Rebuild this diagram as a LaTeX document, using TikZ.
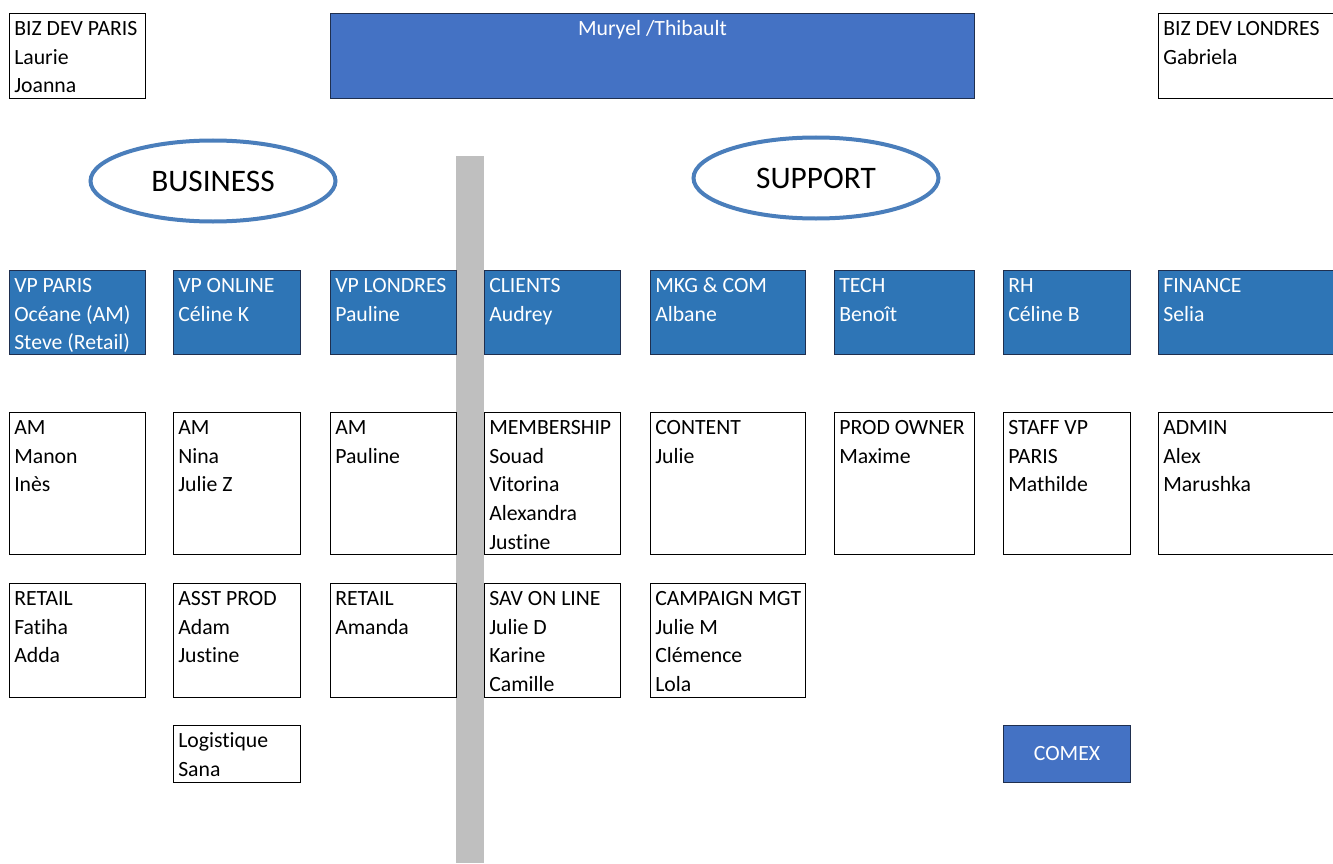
\documentclass[tikz,border=0pt]{standalone}
\usepackage{fontspec}
\setmainfont{Carlito}[Ligatures={NoCommon}]
\usetikzlibrary{shapes.geometric}
\definecolor{deptblue}{HTML}{2E75B6}
\definecolor{headblue}{HTML}{4472C4}
\definecolor{ringblue}{HTML}{4A7EBB}
\definecolor{navyline}{HTML}{1F2F4F}
\definecolor{bargray}{HTML}{BFBFBF}
\newcommand\bodyfont{\fontsize{16.3}{21.4}\selectfont}
\newcommand\bigfont{\fontsize{23.5}{28}\selectfont}
% one framed cell: name, left, top, width, height, style, lines
\newcommand\orgbox[7]{%
  \node[#6, anchor=north west, minimum width=#4*0.75pt, minimum height=#5*0.75pt] (#1) at (#2,#3) {};
  \node[#6text, anchor=north west, xshift=3.75pt, yshift=-2pt] (#1-t) at (#1.north west) {\strut #7};
}
\tikzset{
  wbox/.style={draw=black, line width=0.75pt, fill=white, inner sep=0pt},
  wboxtext/.style={align=left, inner sep=0pt, font=\bodyfont, text=black},
  bbox/.style={draw=navyline, line width=0.75pt, fill=deptblue, inner sep=0pt},
  bboxtext/.style={align=left, inner sep=0pt, font=\bodyfont, text=white},
  hbox/.style={draw=navyline, line width=0.75pt, fill=headblue, inner sep=0pt},
  htext/.style={inner sep=0pt, font=\bodyfont, text=white},
  pole/.style={ellipse, draw=ringblue, line width=3pt, fill=white, font=\bigfont, text=black,
    minimum width=245*0.75pt, minimum height=81*0.75pt, inner sep=0pt},
}
\begin{document}
\begin{tikzpicture}[x=0.75pt,y=-0.75pt]
\useasboundingbox (0,0) rectangle (1333,863);
\clip (0,0) rectangle (1333,863);

% separator between business and support
\fill[bargray] (456,156) rectangle (484,863);

% top row
\orgbox{bdp}{9}{13}{136}{85}{wbox}{BIZ DEV PARIS\\Laurie\\Joanna}
\node[hbox, anchor=north west, minimum width=644*0.75pt, minimum height=85*0.75pt] (head) at (330,13) {};
\node[htext, anchor=north, yshift=-2pt] (head-t) at (head.north) {\strut Muryel /Thibault};
\orgbox{bdl}{1158}{13}{200}{85}{wbox}{BIZ DEV LONDRES\\Gabriela}

% the two poles
\node[pole] (business) at (213,181) {BUSINESS};
\node[pole] (support) at (816,178) {SUPPORT};

% departments
\orgbox{vpp}{9}{270}{136}{84}{bbox}{VP PARIS\\Océane (AM)\\Steve (Retail)}
\orgbox{vpo}{173}{270}{127}{84}{bbox}{VP ONLINE\\Céline K}
\orgbox{vpl}{330}{270}{126}{84}{bbox}{VP LONDRES\\Pauline}
\orgbox{cli}{484}{270}{136}{84}{bbox}{CLIENTS\\Audrey}
\orgbox{mkg}{650}{270}{155}{84}{bbox}{MKG \& COM\\Albane}
\orgbox{tech}{834}{270}{140}{84}{bbox}{TECH\\Benoît}
\orgbox{rh}{1003}{270}{127}{84}{bbox}{RH\\Céline B}
\orgbox{fin}{1158}{270}{200}{84}{bbox}{FINANCE\\Selia}

% teams, first row
\orgbox{am1}{9}{412}{136}{142}{wbox}{AM\\Manon\\Inès}
\orgbox{am2}{173}{412}{127}{142}{wbox}{AM\\Nina\\Julie Z}
\orgbox{am3}{330}{412}{126}{142}{wbox}{AM\\Pauline}
\orgbox{memb}{484}{412}{136}{142}{wbox}{MEMBERSHIP\\Souad\\Vitorina\\Alexandra\\Justine}
\orgbox{cont}{650}{412}{155}{142}{wbox}{CONTENT\\Julie}
\orgbox{prod}{834}{412}{140}{142}{wbox}{PROD OWNER\\Maxime}
\orgbox{staff}{1003}{412}{127}{142}{wbox}{STAFF VP\\PARIS\\Mathilde}
\orgbox{admin}{1158}{412}{200}{142}{wbox}{ADMIN\\Alex\\Marushka}

% teams, second row
\orgbox{ret1}{9}{583}{136}{114}{wbox}{RETAIL\\Fatiha\\Adda}
\orgbox{asst}{173}{583}{127}{114}{wbox}{ASST PROD\\Adam\\Justine}
\orgbox{ret2}{330}{583}{126}{114}{wbox}{RETAIL\\Amanda}
\orgbox{sav}{484}{583}{136}{114}{wbox}{SAV ON LINE\\Julie D\\Karine\\Camille}
\orgbox{camp}{650}{583}{155}{114}{wbox}{CAMPAIGN MGT\\Julie M\\Clémence\\Lola}

% bottom row
\orgbox{logi}{173}{725}{127}{57}{wbox}{Logistique\\Sana}
\node[hbox, anchor=north west, minimum width=127*0.75pt, minimum height=57*0.75pt] (comex) at (1003,725) {};
\node[htext] (comex-t) at (comex.center) {COMEX};
\end{tikzpicture}
\end{document}
